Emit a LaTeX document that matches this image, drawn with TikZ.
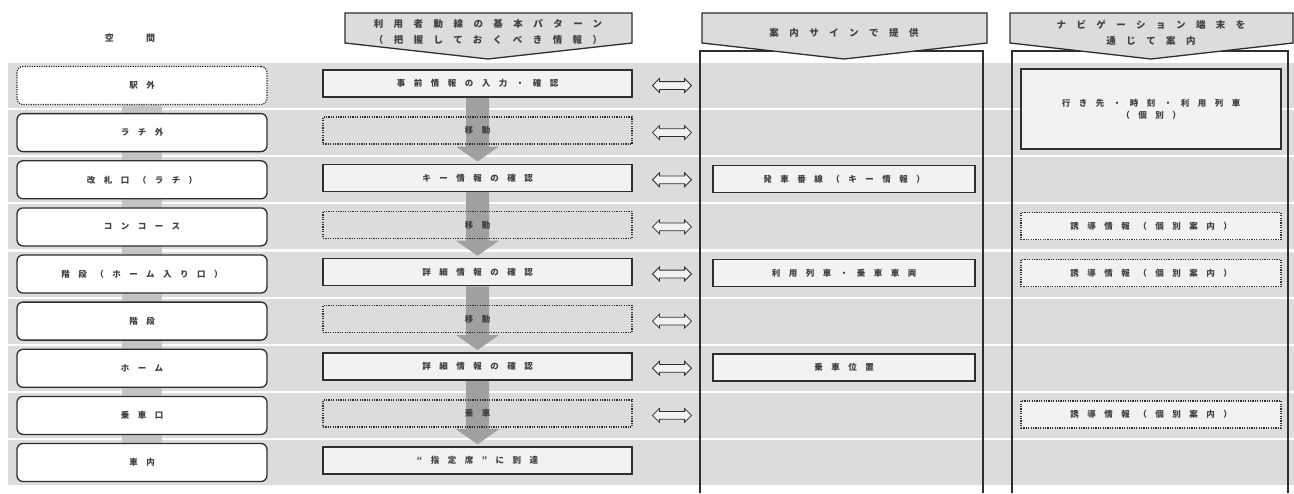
\documentclass[tikz,border=0pt]{standalone}
\usepackage{fontspec}
\newfontfamily\jp[LetterSpace=100]{Noto Sans CJK JP}
\newfontfamily\jph[LetterSpace=110]{Noto Sans CJK JP}
\newfontfamily\jpw[LetterSpace=360]{Noto Sans CJK JP}
\usetikzlibrary{shapes.arrows,calc}
\definecolor{band}{HTML}{DCDCDC}
\definecolor{dk}{HTML}{2E2E2E}
\definecolor{txt}{HTML}{404040}
\definecolor{boxfill}{HTML}{F2F2F2}
\definecolor{arrgray}{HTML}{A0A0A0}
\definecolor{shaftgray}{HTML}{C4C4C4}
\pgfdeclarelayer{bg}
\pgfdeclarelayer{mid}
\pgfsetlayers{bg,mid,main}
\tikzset{
  tx/.style={text=txt, font=\jp\bfseries\fontsize{8.5}{12}\selectfont, inner sep=0pt},
  lbox/.style={tx, draw=dk, line width=1.3pt, rounded corners=6pt, fill=white, minimum width=250pt, minimum height=38pt},
  ldot/.style={lbox, dash pattern=on 1.2pt off 1.2pt, line width=1.2pt},
  sbox/.style={tx, draw=dk, line width=1.6pt, fill=boxfill, minimum width=309pt, minimum height=27pt},
  dbox/.style={tx, draw=dk, line width=1.3pt, dash pattern=on 1.2pt off 1.2pt, minimum width=309pt, minimum height=27pt},
  cbox/.style={sbox, minimum width=262pt},
  nbox/.style={dbox, fill=boxfill, minimum width=260pt},
  darr/.style={double arrow, draw=dk, line width=0.8pt, fill=boxfill, minimum height=39pt, inner sep=3.5pt, double arrow head extend=3pt},
  hdr/.style={fill=band, draw=dk, line width=1.3pt, line join=miter},
  htx/.style={text=txt, font=\jph\bfseries\fontsize{9.5}{16}\selectfont, inner sep=0pt, align=center},
  colline/.style={draw=dk, line width=1.1pt},
  downarr/.style={fill=arrgray}
}
\begin{document}
\begin{tikzpicture}[x=1pt,y=-1pt]
\useasboundingbox (0,0) rectangle (1294,493);
% background bands
\begin{pgfonlayer}{bg}
\foreach \i in {0,...,8}
  \fill[band] (8,{63+47.125*\i}) rectangle (1294,{108+47.125*\i});
\end{pgfonlayer}
% column frames
\draw[colline] (700,493) -- (700,51) -- (983,51) -- (983,493);
\draw[colline] (1012,493) -- (1012,51) -- (1288,51) -- (1288,493);
% headers
\node[htx] (h0) at (130,38) {\jpw\bfseries\fontsize{9}{12}\selectfont 空間};
\draw[hdr] (345,13) -- (632,13) -- (632,43) -- (488,59) -- (345,43) -- cycle;
\node[htx] (h1) at (488,32) {利用者動線の基本パターン\\（把握しておくべき情報）};
\draw[hdr] (702,13) -- (987,13) -- (987,43) -- (844,59) -- (702,43) -- cycle;
\node[htx] (h2) at (844,33) {案内サインで提供};
\draw[hdr] (1010,13) -- (1293,13) -- (1293,43) -- (1151,59) -- (1010,43) -- cycle;
\node[htx] (h3) at (1151,33) {ナビゲーション端末を\\通じて案内};
% left column
\node[ldot] (L1) at (142,85.5) {駅外};
\node[lbox] (L2) at (142,132.6) {ラチ外};
\node[lbox] (L3) at (142,179.8) {改札口（ラチ）};
\node[lbox] (L4) at (142,226.9) {コンコース};
\node[lbox] (L5) at (142,274) {階段（ホーム入り口）};
\node[lbox] (L6) at (142,321.1) {階段};
\node[lbox] (L7) at (142,368.3) {ホーム};
\node[lbox] (L8) at (142,415.4) {乗車口};
\node[lbox] (L9) at (142,462.5) {車内};
\begin{pgfonlayer}{mid}
\fill[shaftgray] ($(L1.center)+(-20,0)$) rectangle ($(L9.center)+(20,0)$);
\end{pgfonlayer}
% column 2
\node[sbox] (B1) at (477.5,83.5) {事前情報の入力・確認};
\node[dbox] (B2) at (477.5,130.6) {移動};
\node[sbox] (B3) at (477.5,177.8) {キー情報の確認};
\node[dbox] (B4) at (477.5,224.9) {移動};
\node[sbox] (B5) at (477.5,272) {詳細情報の確認};
\node[dbox] (B6) at (477.5,319.1) {移動};
\node[sbox] (B7) at (477.5,366.3) {詳細情報の確認};
\node[dbox] (B8) at (477.5,413.4) {乗車};
\node[sbox] (B9) at (477.5,460.5) {“指定席”に到達};
\begin{pgfonlayer}{mid}
\foreach \a/\b in {B1/B3,B3/B5,B5/B7,B7/B9}{
  \fill[downarr] ($(\a.south)+(-11.5,0)$) -- ($(\b.north)+(-11.5,-17)$) -- ($(\b.north)+(-21.5,-17)$)
     -- ($(\b.north)+(0,-2)$) -- ($(\b.north)+(21.5,-17)$) -- ($(\b.north)+(11.5,-17)$)
     -- ($(\a.south)+(11.5,0)$) -- cycle;
}
\end{pgfonlayer}
% double arrows
\foreach \i/\y in {1/85.5,2/132.6,3/179.8,4/226.9,5/274,6/321.1,7/368.3,8/415.4}
  \node[darr] (D\i) at (672,\y) {};
% column 3
\node[cbox] (C3) at (844,178.8) {発車番線（キー情報）};
\node[cbox] (C5) at (844,273) {利用列車・乗車車両};
\node[cbox] (C7) at (844,367.3) {乗車位置};
% column 4
\node[sbox, minimum width=260pt, minimum height=80pt, align=center] (N1) at (1151,109) {行き先・時刻・利用列車\\（個別）};
\node[nbox] (N4) at (1151,226) {誘導情報（個別案内）};
\node[nbox] (N5) at (1151,273) {誘導情報（個別案内）};
\node[nbox] (N8) at (1151,414.4) {誘導情報（個別案内）};
\end{tikzpicture}
\end{document}
